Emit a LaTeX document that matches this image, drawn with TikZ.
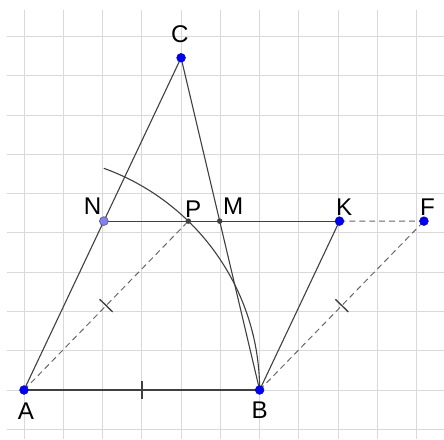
\documentclass[tikz,border=0pt]{standalone}
\usepackage{fontspec}
\setmainfont{Liberation Sans}
\usetikzlibrary{calc}

\begin{document}
\begin{tikzpicture}[
		gridline/.style={draw=black!15, line width=0.7pt},
		seg/.style={draw=black!75, line width=0.8pt},
		dashseg/.style={draw=black!60, line width=0.7pt, dash pattern=on 4.3pt off 2.9pt},
		tickmark/.style={draw=black!75, line width=1pt},
		bluedot/.style={fill=blue, draw=blue!70!black, line width=0.3pt},
		lightdot/.style={fill=blue!50!white, draw=black!60, line width=0.5pt},
		smalldot/.style={fill=black!75},
		lbl/.style={inner sep=0pt, font=\fontsize{17.5}{21}\selectfont}
	]
		% Sizes of the figure
		\def\ab{6}
		\def\hC{8.46}
		\def\yNK{4.3}
		
		\useasboundingbox (-0.611,-1.248) rectangle (10.695,9.931);
		
		% Background grid
		\draw[gridline] (-0.433,-1.248) grid (10.695,9.68);
		
		% Position of A, B and C
		\coordinate (A) at (0,0);
		\coordinate (B) at (\ab,0);
		\coordinate (C) at (4,\hC);
		
		% Points on the line NK
		\coordinate (N) at ($ (A)!{\yNK/\hC}!(C) $);
		\coordinate (M) at ($ (B)!{\yNK/\hC}!(C) $);
		\coordinate (K) at ($ (N) + (\ab,0) $);
		\coordinate (P) at ({sqrt(\ab*\ab-\yNK*\yNK)},\yNK);
		\coordinate (F) at ($ (P) + (\ab,0) $);
		
		% Draw the arc of centre A through B and P
		\draw[seg] (B) arc[start angle=0, end angle=70.2, radius=\ab];
		
		% Draw the triangle ABC
		\draw[seg] (A) -- (B);
		\draw[seg] (A) -- (C);
		\draw[seg] (B) -- (C);
		
		% Draw the line NK and the side KB
		\draw[seg] (N) -- (K);
		\draw[seg] (K) -- (B);
		
		% Draw the dashed lines AP, BF and KF
		\draw[dashseg] (A) -- (P);
		\draw[dashseg] (B) -- (F);
		\draw[dashseg] (K) -- (F);
		
		% Tick marks for AB = AP = BF
		\coordinate (mAB) at ($ (A)!0.5!(B) $);
		\coordinate (mAP) at ($ (A)!0.5!(P) $);
		\coordinate (mBF) at ($ (B)!0.5!(F) $);
		\draw[tickmark] ($ (mAB)!0.23cm!90:(B) $) -- ($ (mAB)!0.23cm!-90:(B) $);
		\draw[tickmark] ($ (mAP)!0.23cm!90:(P) $) -- ($ (mAP)!0.23cm!-90:(P) $);
		\draw[tickmark] ($ (mBF)!0.23cm!90:(F) $) -- ($ (mBF)!0.23cm!-90:(F) $);
		
		% Draw the points
		\draw[bluedot] (A) circle (3.2pt);
		\draw[bluedot] (B) circle (3.2pt);
		\draw[bluedot] (C) circle (3.2pt);
		\draw[bluedot] (K) circle (3.2pt);
		\draw[bluedot] (F) circle (3.2pt);
		\draw[lightdot] (N) circle (3.2pt);
		\fill[smalldot] (P) circle (2pt);
		\fill[smalldot] (M) circle (2pt);
		
		% Labels of the points
		\node[lbl, anchor=south] (labC) at ($ (C) + (-0.03,0.37) $) {C};
		\node[lbl, anchor=south east] (labN) at ($ (N) + (-0.06,0.15) $) {N};
		\node[lbl, anchor=south west] (labP) at ($ (P) + (-0.09,0.09) $) {P};
		\node[lbl, anchor=south west] (labM) at ($ (M) + (0.08,0.15) $) {M};
		\node[lbl, anchor=south] (labK) at ($ (K) + (0.12,0.13) $) {K};
		\node[lbl, anchor=south] (labF) at ($ (F) + (0.09,0.13) $) {F};
		\node[lbl, anchor=north] (labA) at ($ (A) + (0.05,-0.33) $) {A};
		\node[lbl, anchor=north] (labB) at ($ (B) + (0,-0.30) $) {B};
	\end{tikzpicture}
\end{document}
